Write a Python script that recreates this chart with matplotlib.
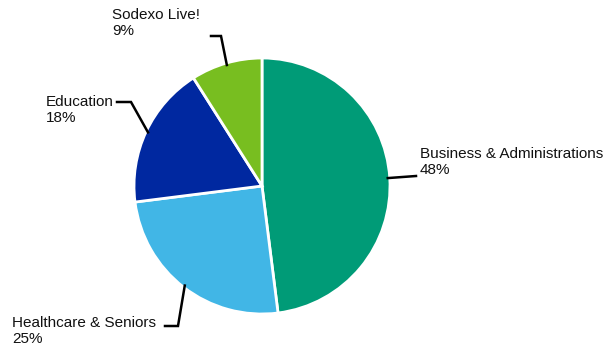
import matplotlib.pyplot as plt
import numpy as np

# data
segments = ['Business & Administrations', 'Healthcare & Seniors', 'Education', 'Sodexo Live!']
shares = [48, 25, 18, 9]
colours = ['#009B77', '#41B6E6', '#0028A0', '#78BE20']

# leader line elbows / ends and label anchors (pixel space, y measured from top)
elbows = [(391, 177), (178, 326), (131, 102), (221, 36)]
line_ends = [(416, 176), (165, 326), (117, 102), (211, 36)]
label_pos = [(420, 162), (12, 331), (46, 110), (112, 23)]

W, H = 611, 351
cx, cy, r = 262, H - 186, 128

plt.rcParams['font.family'] = ['Liberation Sans', 'DejaVu Sans']

fig = plt.figure(figsize=(W / 100, H / 100), dpi=100)
ax = fig.add_axes([0, 0, 1, 1])

wedges, _ = ax.pie(shares, colors=colours, startangle=90, counterclock=False,
                   center=(cx, cy), radius=r,
                   wedgeprops=dict(edgecolor='white', linewidth=2))

# pie() resets the limits, so set them afterwards
ax.set_xlim(0, W)
ax.set_ylim(0, H)
ax.set_aspect('equal')
ax.axis('off')

for w, name, val, elb, end, lp in zip(wedges, segments, shares, elbows, line_ends, label_pos):
    ang = np.deg2rad((w.theta1 + w.theta2) / 2)
    # start on the wedge edge
    sx = cx + (r - 2) * np.cos(ang)
    sy = cy + (r - 2) * np.sin(ang)
    xs = [sx, elb[0], end[0]]
    ys = [sy, H - elb[1], H - end[1]]
    if name.startswith('Business'):
        xs = [sx, end[0]]
        ys = [sy, H - end[1]]
    ax.plot(xs, ys, color='black', lw=1.8, solid_joinstyle='miter')
    ax.text(lp[0], H - lp[1], f'{name}\n{val}%', ha='left', va='center',
            fontsize=11, color='#111111', linespacing=1.1)

fig.savefig('out.png', dpi=100)
